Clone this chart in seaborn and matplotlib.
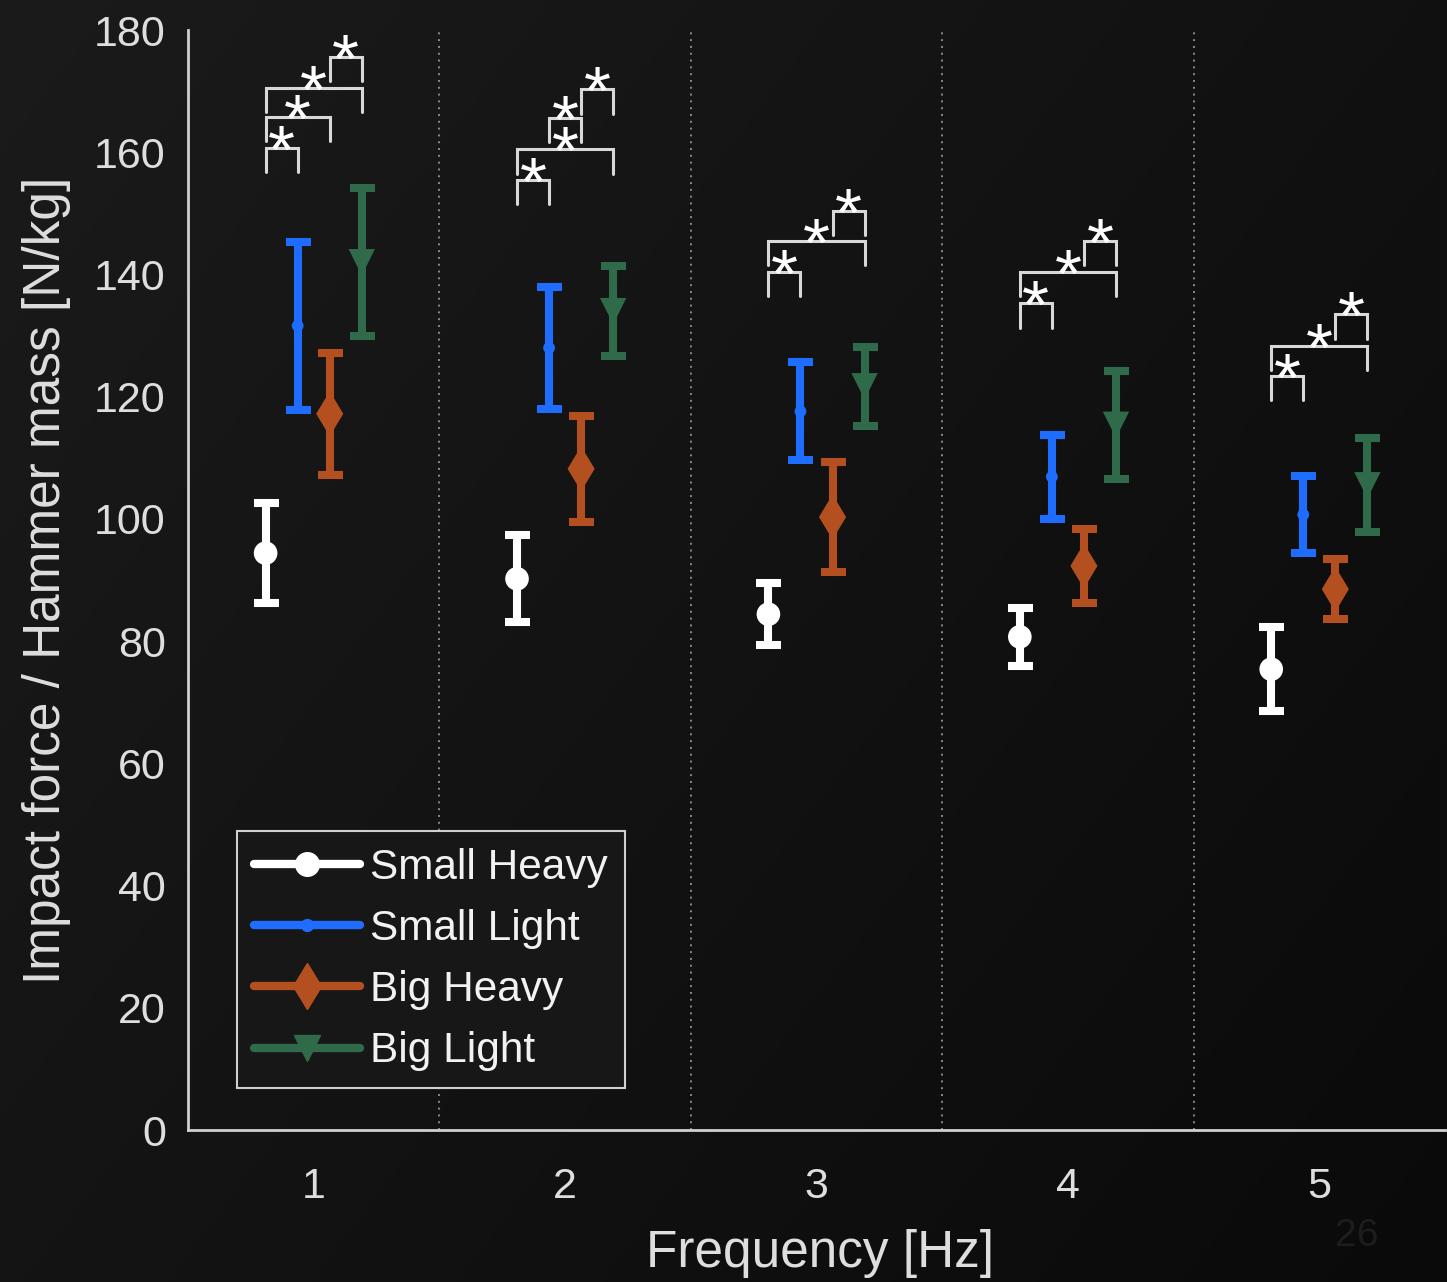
import numpy as np
import pandas as pd
import matplotlib
matplotlib.use("Agg")
import matplotlib.pyplot as plt
import seaborn as sns
from matplotlib.lines import Line2D

# ---------------- data ----------------
frequencies = [1, 2, 3, 4, 5]
conditions = ["Small Heavy", "Small Light", "Big Heavy", "Big Light"]

small_heavy_mean = [94.4, 90.2, 84.4, 80.7, 75.4]
small_heavy_err = [8.2, 7.1, 5.1, 4.7, 6.9]
small_light_mean = [131.6, 128.0, 117.6, 106.9, 100.7]
small_light_err = [13.7, 10.0, 8.0, 6.9, 6.3]
big_heavy_mean = [117.2, 108.2, 100.3, 92.3, 88.5]
big_heavy_err = [10.0, 8.7, 9.0, 6.0, 4.9]
big_light_mean = [142.0, 134.0, 121.7, 115.4, 105.5]
big_light_err = [12.1, 7.4, 6.5, 8.8, 7.7]

# significance brackets: frequency, left condition index, right condition index, bracket top
sig_freq = [1, 1, 1, 1, 2, 2, 2, 2, 3, 3, 3, 4, 4, 4, 5, 5, 5]
sig_left = [0, 0, 0, 2, 0, 0, 1, 2, 0, 0, 2, 0, 0, 2, 0, 0, 2]
sig_right = [1, 2, 3, 3, 1, 3, 2, 3, 1, 3, 3, 1, 3, 3, 1, 3, 3]
sig_top = [160.7, 165.8, 170.5, 175.6, 155.5, 160.5, 165.6, 170.3,
           140.4, 145.5, 150.4, 135.3, 140.4, 145.5, 123.4, 128.3, 133.5]

x_label = "Frequency [Hz]"
y_label = "Impact force / Hammer mass [N/kg]"
y_ticks = [0, 20, 40, 60, 80, 100, 120, 140, 160, 180]

# ---------------- style ----------------
colors = {"Small Heavy": "#ffffff", "Small Light": "#1f6dff",
          "Big Heavy": "#b4501f", "Big Light": "#2f6b4b"}
markers = {"Small Heavy": "o", "Small Light": "o", "Big Heavy": "d", "Big Light": "v"}
msizes = {"Small Heavy": 17, "Small Light": 8.5, "Big Heavy": 23, "Big Light": 19}
dodge_step = 0.1275
leg_len = 4.0
text_col = "#dedede"

sns.set_style("dark")
plt.rcParams["font.family"] = ["Liberation Sans", "DejaVu Sans"]

means = [small_heavy_mean, small_light_mean, big_heavy_mean, big_light_mean]
errs = [small_heavy_err, small_light_err, big_heavy_err, big_light_err]
rows = []
for k, c in enumerate(conditions):
    for i, f in enumerate(frequencies):
        rows.append(dict(freq=f, condition=c, mean=means[k][i], err=errs[k][i],
                         x=f + (k - 1.5) * dodge_step))
df = pd.DataFrame(rows)

W, H = 1447, 1282
fig = plt.figure(figsize=(W / 100, H / 100), dpi=100)

# background gradient
bg = fig.add_axes([0, 0, 1, 1], zorder=-10)
yy, xx = np.mgrid[0:1:300j, 0:1:300j]
g = 0.105 - 0.065 * (0.6 * xx + 0.4 * yy)
bg.imshow(np.dstack([g, g, g]), extent=[0, 1, 0, 1], aspect="auto")
bg.axis("off")

ax = fig.add_axes([188 / W, 1 - 1130 / H, (1445 - 188) / W, 1100 / H])
ax.set_facecolor("none")

# separators
for a, b in zip(frequencies[:-1], frequencies[1:]):
    ax.axvline((a + b) / 2, color="#8a8a8a", ls=(0, (1, 2.5)), lw=1.4, zorder=1)

# error bars
for c in conditions:
    d = df[df.condition == c]
    ax.errorbar(d.x, d["mean"], yerr=d.err, fmt="none", ecolor=colors[c],
                elinewidth=5.8, capsize=9, capthick=5.8, zorder=3)

# markers via seaborn
sns.scatterplot(data=df, x="x", y="mean", hue="condition", style="condition",
                size="condition", sizes={c: msizes[c] ** 2 for c in conditions},
                palette=colors, markers=markers, hue_order=conditions,
                linewidth=0, legend=False, ax=ax, zorder=4)

# significance brackets
for f, l, r, h in zip(sig_freq, sig_left, sig_right, sig_top):
    x0 = f + (l - 1.5) * dodge_step
    x1 = f + (r - 1.5) * dodge_step
    ax.plot([x0, x0, x1, x1], [h - leg_len, h, h, h - leg_len], color="#d8d8d8",
            lw=2.2, zorder=2, solid_joinstyle="miter")
    ax.annotate("*", xy=((x0 + x1) / 2, h), xytext=(0, -18), textcoords="offset points",
                ha="center", va="baseline", fontsize=50, fontweight="normal",
                color="white", zorder=5)

ax.set_xlim(0.5, 5.5)
ax.set_ylim(0, 180)
ax.set_xticks(frequencies)
ax.set_yticks(y_ticks)
ax.grid(False)
for s in ["top", "right"]:
    ax.spines[s].set_visible(False)
for s in ["left", "bottom"]:
    ax.spines[s].set_color("#d0d0d0")
    ax.spines[s].set_linewidth(2)
ax.tick_params(axis="both", direction="in", length=9, width=1.5, color="#d0d0d0",
               labelcolor=text_col, labelsize=31)
ax.tick_params(axis="y", pad=16)
ax.tick_params(axis="x", pad=27)

ax.set_xlabel(x_label, fontsize=37, color=text_col)
ax.set_ylabel(y_label, fontsize=37, color=text_col)
ax.xaxis.label.set_va("center")
ax.yaxis.label.set_va("center")
ax.xaxis.set_label_coords(0.503, (1130 - 1253) / 1100)
ax.yaxis.set_label_coords((47 - 188) / 1257, 0.5)

# legend
handles = [Line2D([0], [0], color=colors[c], lw=6, marker=markers[c],
                  markersize=msizes[c], markeredgecolor=colors[c]) for c in conditions]
leg = ax.legend(handles, conditions, loc="upper left",
                bbox_to_anchor=(237 / W, 1 - 831 / H), bbox_transform=fig.transFigure,
                borderaxespad=0, fontsize=30.5, handlelength=2.5, handletextpad=0.25,
                labelspacing=0.5, borderpad=0.4, fancybox=False, framealpha=1)
leg.get_frame().set_facecolor("#171717")
leg.get_frame().set_edgecolor("#cfcfcf")
leg.get_frame().set_linewidth(1.5)
for t in leg.get_texts():
    t.set_color("#f2f2f2")

fig.text(1357 / W, 1 - 1236 / H, "26", fontsize=28, color="#1d1d1d", ha="center", va="center")

fig.savefig("out.png", dpi=100)
